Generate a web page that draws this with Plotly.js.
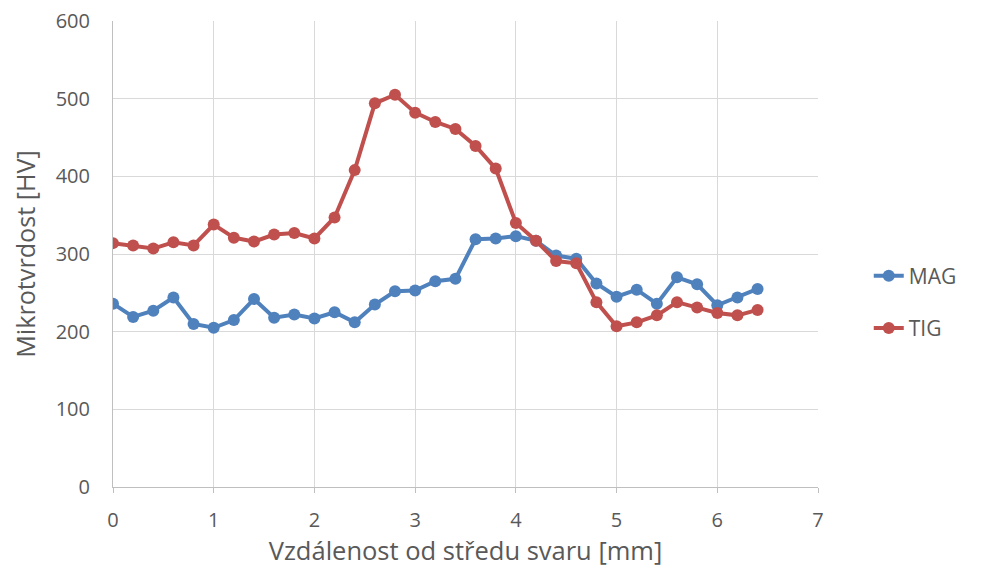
<!DOCTYPE html>
<html>
<head>
<meta charset="utf-8">
<script src="https://cdn.plot.ly/plotly-3.0.1.min.js"></script>
<style>html,body{margin:0;padding:0;background:#fff;}#chart{width:985px;height:573px;}</style>
</head>
<body>
<div id="chart"></div>
<script>
const xValues = [0,0.2,0.4,0.6,0.8,1.0,1.2,1.4,1.6,1.8,2.0,2.2,2.4,2.6,2.8,3.0,3.2,3.4,3.6,3.8,4.0,4.2,4.4,4.6,4.8,5.0,5.2,5.4,5.6,5.8,6.0,6.2,6.4];
const magValues = [236,219,227,244,210,205,215,242,218,222,217,225,212,235,252,253,265,268,319,320,323,317,298,294,262,245,254,236,270,261,234,244,255];
const tigValues = [314,311,307,315,311,338,321,316,325,327,320,347,408,494,505,482,470,461,439,410,340,317,291,288,238,207,212,221,238,231,224,221,228];
const seriesNames = ['MAG','TIG'];
const xTitle = 'Vzdálenost od středu svaru [mm]';
const yTitle = 'Mikrotvrdost [HV]';

const font = 'Open Sans, Liberation Sans, sans-serif';
const traces = [
  {x: xValues, y: magValues, name: seriesNames[0], mode: 'lines+markers', legendgroup: 'a',
   line: {color: '#4F81BD', width: 4}, marker: {color: '#4F81BD', size: 12}},
  {x: xValues, y: tigValues, name: seriesNames[1], mode: 'lines+markers', legendgroup: 'b',
   line: {color: '#C0504D', width: 4}, marker: {color: '#C0504D', size: 12}}
];
const layout = {
  width: 985, height: 573,
  margin: {l: 113, r: 167, t: 21, b: 86},
  paper_bgcolor: '#fff', plot_bgcolor: '#fff',
  font: {family: font, color: '#595959', size: 20},
  xaxis: {range: [0, 7], dtick: 1, tick0: 0, showgrid: true, gridcolor: '#d9d9d9', gridwidth: 1,
          zeroline: false, showline: true, linecolor: '#bfbfbf', ticks: 'outside', ticklen: 5, tickcolor: '#bfbfbf',
          tickfont: {size: 20, color: '#595959'}, ticklabelstandoff: 10,
          title: {text: xTitle, font: {size: 25.5, color: '#595959'}, standoff: 3}},
  yaxis: {range: [0, 600], dtick: 100, showgrid: true, gridcolor: '#d9d9d9', gridwidth: 1,
          zeroline: false, showline: true, linecolor: '#bfbfbf',
          tickfont: {size: 20, color: '#595959'}, ticklabelstandoff: 18,
          title: {text: yTitle, font: {size: 25.2, color: '#595959'}, standoff: 12}},
  legend: {x: 1.072, y: 0.397, xanchor: 'left', yanchor: 'middle', traceorder: 'grouped', tracegroupgap: 22,
           font: {size: 21, color: '#595959'}, bgcolor: 'rgba(0,0,0,0)'},
  showlegend: true
};
Plotly.newPlot('chart', traces, layout, {displayModeBar: false, staticPlot: true});
</script>
</body>
</html>
